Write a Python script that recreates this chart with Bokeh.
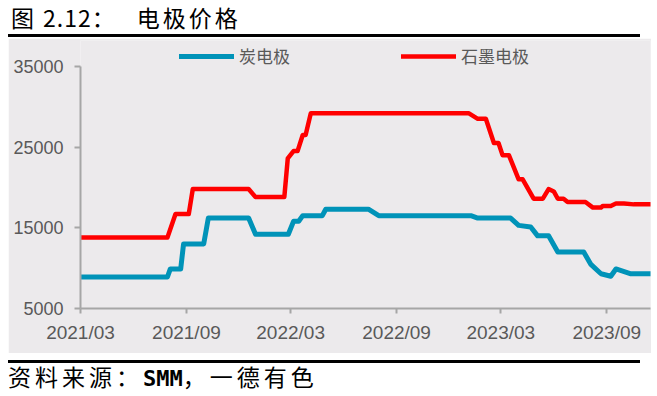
import pandas as pd
from bokeh.plotting import figure
from bokeh.models import Div, Legend, LegendItem, FixedTicker, DatetimeTickFormatter, Range1d
from bokeh.layouts import column
from bokeh.embed import file_html
from bokeh.resources import INLINE

# ---------------- data ----------------
fig_number = "图"
fig_index = "2.12："
fig_title = "电极价格"
source_label = "资料来源："
source_names = ["SMM", "，一德有色"]
series_names = ["炭电极", "石墨电极"]
x_tick_labels = ["2021/03", "2021/09", "2022/03", "2022/09", "2023/03", "2023/09"]
y_ticks = [5000, 15000, 25000, 35000]
x_start = "2021-03-01"
x_end = "2023-11-16"

carbon_dates = [
    "2021-03-01", "2021-07-30", "2021-08-04", "2021-08-22", "2021-08-27", "2021-10-01",
    "2021-10-09", "2021-12-18", "2021-12-30", "2022-02-25", "2022-03-06", "2022-03-15",
    "2022-03-22", "2022-04-25", "2022-05-01", "2022-07-14", "2022-08-01", "2023-01-08",
    "2023-01-20", "2023-03-18", "2023-04-01", "2023-04-22", "2023-05-04", "2023-05-23",
    "2023-06-08", "2023-07-23", "2023-08-04", "2023-08-22", "2023-09-08", "2023-09-17",
    "2023-10-13", "2023-11-16",
]
carbon_values = [
    8900, 8900, 9900, 9900, 13000, 13000,
    16200, 16200, 14200, 14200, 15800, 15800,
    16500, 16500, 17300, 17300, 16500, 16500,
    16200, 16200, 15300, 15100, 14000, 14000,
    12000, 12000, 10500, 9300, 9000, 9900,
    9300, 9300,
]

graphite_dates = [
    "2021-03-01", "2021-07-30", "2021-08-13", "2021-09-05", "2021-09-12", "2021-12-18",
    "2021-12-30", "2022-02-18", "2022-02-24", "2022-03-06", "2022-03-13", "2022-03-22",
    "2022-03-27", "2022-04-05", "2023-01-04", "2023-01-20", "2023-02-03", "2023-02-17",
    "2023-02-25", "2023-03-04", "2023-03-15", "2023-04-01", "2023-04-08", "2023-04-27",
    "2023-05-13", "2023-05-23", "2023-06-01", "2023-06-08", "2023-06-18", "2023-06-25",
    "2023-07-26", "2023-08-08", "2023-08-22", "2023-08-25", "2023-09-08", "2023-09-17",
    "2023-10-01", "2023-10-18", "2023-11-16",
]
graphite_values = [
    13800, 13800, 16700, 16700, 19800, 19800,
    18800, 18800, 23600, 24500, 24500, 26500,
    26500, 29200, 29200, 28500, 28500, 25500,
    25500, 24000, 24000, 21000, 21000, 18600,
    18600, 19800, 19500, 18600, 18600, 18200,
    18200, 17500, 17500, 17700, 17700, 18000,
    18000, 17900, 17900,
]

# ---------------- styles ----------------
BG = "#ECEAEC"
TEAL = "#0093B8"
RED = "#FF0000"
AXIS = "#A6A6A6"
LABEL = "#595959"

x_ticks = [pd.Timestamp(s.replace("/", "-") + "-01").value // 10**6 for s in x_tick_labels]

# headroom above the top tick so the legend sits inside the frame
y_top = y_ticks[-1] + 3200

p = figure(
    width=643, height=315,
    x_axis_type="datetime",
    x_range=Range1d(pd.Timestamp(x_start), pd.Timestamp(x_end)),
    y_range=Range1d(y_ticks[0], y_top),
    output_backend="svg", toolbar_location=None,
    background_fill_color=BG, border_fill_color=BG,
    outline_line_color=None,
    min_border_left=72, min_border_right=1, min_border_top=2, min_border_bottom=45,
    margin=(1, 0, 0, 0),
)
p.grid.visible = False

r_carbon = p.line(pd.to_datetime(carbon_dates), carbon_values, line_color=TEAL,
                  line_width=5, line_join="round", line_cap="round")
r_graph = p.line(pd.to_datetime(graphite_dates), graphite_values, line_color=RED,
                 line_width=4.5, line_join="round", line_cap="round")

legend = Legend(
    items=[LegendItem(label=series_names[0], renderers=[r_carbon]),
           LegendItem(label=series_names[1], renderers=[r_graph])],
    orientation="horizontal", location=(99, 240),
    background_fill_alpha=0, border_line_color=None,
    glyph_width=55, glyph_height=18, label_standoff=5, spacing=111,
    padding=0, margin=0,
    label_text_font="Noto Sans CJK SC", label_text_font_size="17px",
    label_text_color=LABEL,
)
p.add_layout(legend, "center")

for ax in (p.xaxis[0], p.yaxis[0]):
    ax.axis_line_color = AXIS
    ax.axis_line_width = 2
    ax.major_tick_line_color = AXIS
    ax.major_tick_line_width = 2
    ax.major_tick_in = 0
    ax.minor_tick_in = 0
    ax.minor_tick_out = 0
    ax.major_label_text_font = "Liberation Sans"
    ax.major_label_text_color = LABEL

p.yaxis.ticker = FixedTicker(ticks=y_ticks)
p.yaxis.bounds = (y_ticks[0], y_ticks[-1])
p.yaxis.major_tick_out = 6
p.yaxis.major_label_standoff = 11
p.yaxis.major_label_text_font_size = "18px"

p.xaxis.ticker = FixedTicker(ticks=x_ticks)
fmt = "%Y/%m"
p.xaxis.formatter = DatetimeTickFormatter(
    milliseconds=fmt, seconds=fmt, minsec=fmt, minutes=fmt, hourmin=fmt, hours=fmt,
    days=fmt, months=fmt, years=fmt)
p.xaxis.major_tick_out = 5
p.xaxis.major_label_standoff = 8
p.xaxis.major_label_text_font_size = "19px"

title_html = (
    '<div style="box-sizing:border-box;width:632px;height:37px;padding-left:3px;'
    'border-bottom:3px solid #000;'
    "font-family:'Noto Sans CJK SC';font-size:23px;line-height:normal;color:#000;white-space:pre;\">"
    f'<span>{fig_number}</span>'
    f'<span style="margin-left:9px;letter-spacing:1px;">{fig_index}</span>'
    f'<span style="margin-left:21px;letter-spacing:3px;">{fig_title}</span>'
    '</div>'
)
title_div = Div(text=title_html, width=643, height=37, margin=(0, 0, 0, 0))

source_html = (
    '<div style="margin-top:7px;width:632px;border-top:3px solid #000;padding-top:2px;'
    "font-family:'Noto Sans CJK SC';font-size:23px;line-height:23px;letter-spacing:4px;"
    'white-space:nowrap;color:#000;">'
    f'{source_label}<span style="font-family:\'DejaVu Sans Mono\';font-weight:bold;'
    f'font-size:22px;letter-spacing:0;">{source_names[0]}</span>{source_names[1]}</div>'
)
source_div = Div(text=source_html, width=643, height=35, margin=(0, 0, 0, 0))

layout = column(title_div, p, source_div, spacing=0, margin=(0, 0, 0, 8))

open("out.html", "w").write(file_html(layout, INLINE))
